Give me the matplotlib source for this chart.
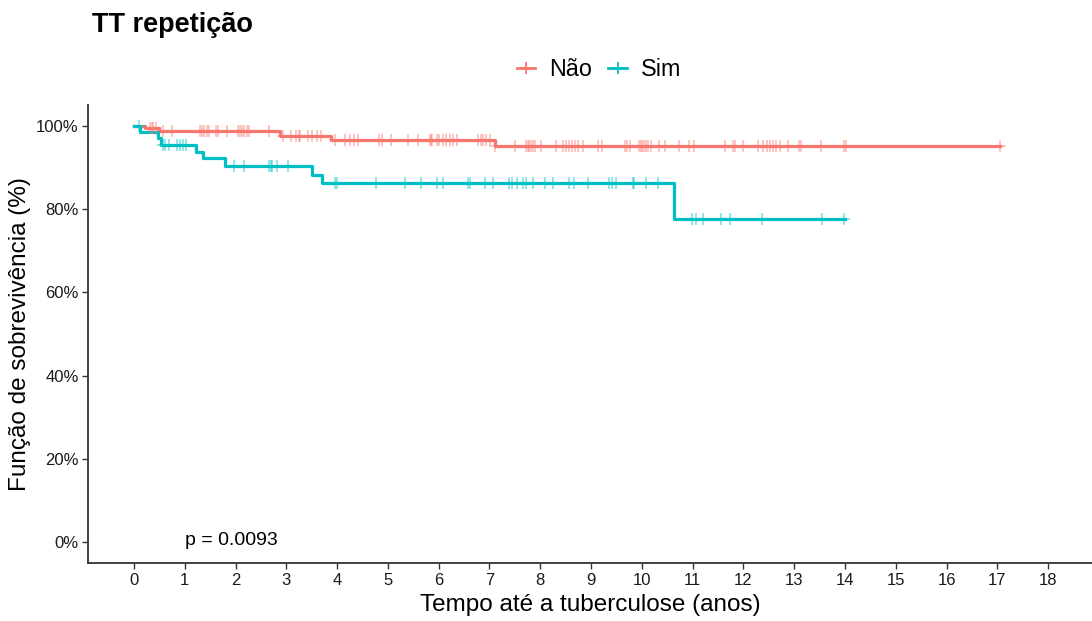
"""
Kaplan-Meier curves for 'TT repetição' (Não vs Sim), redrawn from a ggsurvplot figure.
"""

import numpy as np
import matplotlib
matplotlib.use("Agg")
import matplotlib.pyplot as plt
import matplotlib.lines as mlines
import matplotlib.ticker as mticker

plt.rcParams["font.family"] = ["Liberation Sans", "DejaVu Sans"]

# -- Data ----------------------------------------------------------------------
GROUPS = ["Não", "Sim"]
COLORS = {"Não": "#F8766D", "Sim": "#00BFC4"}

# step curves: time (years) where survival changes, survival (%) from there on
nao_times = [0, 0.22, 0.49, 2.87, 3.88, 7.11, 17.05]
nao_surv  = [100, 99.4, 98.7, 97.6, 96.5, 95.2, 95.2]

sim_times = [0, 0.12, 0.48, 0.53, 1.23, 1.36, 1.79, 3.50, 3.70, 10.64, 14.0]
sim_surv  = [100, 98.5, 97.0, 95.4, 93.6, 92.2, 90.4, 88.2, 86.2, 77.7, 77.7]

# censoring times (years)
nao_censor = [0.31, 0.35, 0.38, 0.43, 0.58, 0.74, 1.30, 1.33, 1.38, 1.43, 1.48,
              1.61, 1.65, 1.83, 2.05, 2.09, 2.12, 2.17, 2.22, 2.26, 2.66,
              2.93, 3.10, 3.19, 3.24, 3.27, 3.43, 3.50, 3.60, 3.68,
              3.96, 4.16, 4.25, 4.33, 4.42, 4.83, 4.88, 5.07, 5.40, 5.60,
              5.82, 5.84, 5.86, 5.96, 6.01, 6.08, 6.14, 6.22, 6.29, 6.36,
              6.78, 6.83, 6.88, 6.94, 7.01, 7.11, 7.50, 7.71, 7.75, 7.78,
              7.82, 7.86, 7.89, 8.01, 8.31, 8.45, 8.50, 8.56, 8.63, 8.68,
              8.75, 8.85, 9.14, 9.22, 9.66, 9.71, 9.77, 9.94, 9.98, 10.01,
              10.05, 10.08, 10.13, 10.19, 10.33, 10.46, 10.73, 10.93, 11.03,
              11.63, 11.79, 11.84, 12.00, 12.29, 12.38, 12.47, 12.52, 12.58,
              12.65, 12.72, 12.88, 13.09, 13.14, 13.53, 13.99, 14.02, 17.05]

sim_censor = [0.09, 0.58, 0.61, 0.68, 0.84, 0.91, 0.97, 1.02,
              1.96, 2.17, 2.66, 2.69, 2.72, 2.81, 3.03,
              3.96, 4.00, 4.76, 5.33, 5.65, 5.96, 6.08, 6.58, 6.62, 6.92,
              7.06, 7.38, 7.45, 7.55, 7.66, 7.71, 7.86, 8.10, 8.26, 8.57,
              8.66, 8.94, 9.35, 9.42, 9.49, 9.82, 9.85, 10.08, 10.31,
              10.99, 11.07, 11.21, 11.55, 11.74, 12.36, 13.54, 13.99]

CURVES = {
    "Não": (nao_times, nao_surv, nao_censor),
    "Sim": (sim_times, sim_surv, sim_censor),
}

x_ticks = list(range(0, 19))
y_ticks = [0, 20, 40, 60, 80, 100]
p_text = "p = 0.0093"


def surv_at(times, surv, t):
    idx = np.searchsorted(np.asarray(times), t, side="right") - 1
    return np.asarray(surv)[np.clip(idx, 0, len(surv) - 1)]


# -- Plot ----------------------------------------------------------------------
fig = plt.figure(figsize=(10.92, 6.21), dpi=100)
ax = fig.add_axes([88.3 / 1092, 57.7 / 621, 1 - 88.3 / 1092, 458.3 / 621])

for g in GROUPS:
    times, surv, cens = CURVES[g]
    c = COLORS[g]
    ax.step(times, surv, where="post", color=c, lw=2.3, zorder=2)
    ax.plot(cens, surv_at(times, surv, cens), linestyle="None", marker="+",
            markersize=8, markeredgewidth=1.3, color=c, alpha=0.45, zorder=3)

ax.set_xlim(-0.9, 18.865)
ax.set_ylim(-5, 105)
ax.set_xticks(x_ticks)
ax.set_yticks(y_ticks)
ax.yaxis.set_major_formatter(mticker.FuncFormatter(lambda v, _: f"{v:.0f}%"))
ax.tick_params(axis="both", labelsize=12, length=4, width=1,
               color="#333333", labelcolor="#1a1a1a", pad=3)

for side in ("top", "right"):
    ax.spines[side].set_visible(False)
for side in ("left", "bottom"):
    ax.spines[side].set_color("#333333")
    ax.spines[side].set_linewidth(1.3)

ax.text(1.0, 0.5, p_text, fontsize=14, ha="left", va="center", color="black")

# labels and title
fig.text(91.5 / 1092, 1 - 25 / 621, "TT repetição", fontsize=19.5,
         fontweight="bold", ha="left", va="center")
fig.text(0.5 * (88.3 + 1092) / 1092, 1 - 605 / 621,
         "Tempo até a tuberculose (anos)", fontsize=17.5, ha="center", va="center")
fig.text(20 / 1092, 1 - 334 / 621, "Função de sobrevivência (%)", fontsize=17.5,
         rotation=90, ha="center", va="center")

# legend
handles = [mlines.Line2D([], [], color=COLORS[g], lw=2, marker="+",
                         markersize=9, markeredgewidth=1.3, label=g)
           for g in GROUPS]
fig.legend(handles=handles, loc="center", bbox_to_anchor=(599 / 1092, 1 - 70 / 621),
           ncol=2, frameon=False, fontsize=16.8, handlelength=0.8,
           handletextpad=0.6, columnspacing=0.7, borderaxespad=0)

fig.savefig("out.png", dpi=100)
